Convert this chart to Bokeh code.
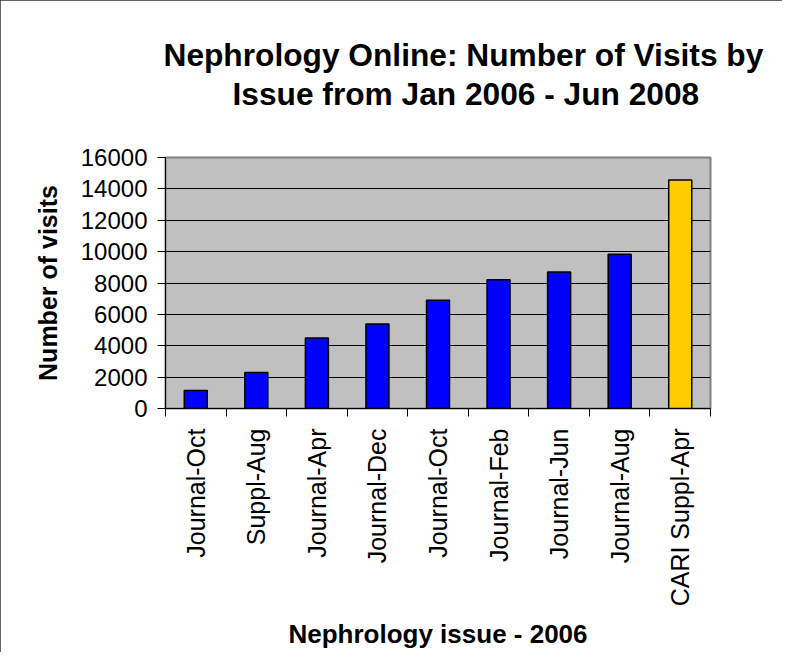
import math
from bokeh.plotting import figure
from bokeh.models import Range1d, LinearAxis, FixedTicker, Title, Grid
from bokeh.embed import file_html
from bokeh.resources import INLINE

# ---- data ----
issues = ["Journal-Oct", "Suppl-Aug", "Journal-Apr", "Journal-Dec", "Journal-Oct",
          "Journal-Feb", "Journal-Jun", "Journal-Aug", "CARI Suppl-Apr"]
visits = [1150, 2300, 4500, 5380, 6900, 8200, 8700, 9830, 14570]
bar_colors = ["#0000FF"] * 8 + ["#FFCC00"]
y_ticks = [0, 2000, 4000, 6000, 8000, 10000, 12000, 14000, 16000]
title_lines = ["Nephrology Online: Number of Visits by", "Issue from Jan 2006 - Jun 2008"]
x_title = "Nephrology issue - 2006"
y_title = "Number of visits"

FONT = "Liberation Sans"
n = len(issues)
centers = [i + 0.5 for i in range(n)]
bounds = list(range(n + 1))

p = figure(frame_width=545, frame_height=251,
           x_range=Range1d(0, n), y_range=Range1d(y_ticks[0], y_ticks[-1]),
           x_axis_type=None, y_axis_type=None,
           output_backend="svg", toolbar_location=None,
           min_border_left=165, min_border_right=72,
           min_border_top=157, min_border_bottom=243,
           background_fill_color="#C0C0C0", border_fill_color="white")
p.outline_line_color = "#808080"
p.outline_line_width = 2
p.styles = {"outline": "1px solid #333333", "outline-offset": "-1px"}

# y axis
yaxis = LinearAxis(ticker=FixedTicker(ticks=y_ticks),
                   axis_label=y_title,
                   axis_label_text_font=FONT, axis_label_text_font_size="25px",
                   axis_label_text_font_style="bold", axis_label_text_color="black",
                   axis_label_standoff=16,
                   major_label_text_font=FONT, major_label_text_font_size="24px",
                   major_label_text_color="black", major_label_standoff=10,
                   major_tick_in=0, major_tick_out=8, major_tick_line_color="black",
                   minor_tick_line_color=None,
                   axis_line_color="black", axis_line_width=1)
p.add_layout(yaxis, "left")

# x axis
xaxis = LinearAxis(ticker=FixedTicker(ticks=centers, minor_ticks=bounds),
                   major_label_overrides={c: lab for c, lab in zip(centers, issues)},
                   major_label_orientation=math.pi / 2,
                   major_label_text_font=FONT, major_label_text_font_size="25px",
                   major_label_text_color="black", major_label_standoff=12,
                   major_tick_in=0, major_tick_out=8, major_tick_line_color=None,
                   minor_tick_in=0, minor_tick_out=8, minor_tick_line_color="black",
                   axis_label=x_title,
                   axis_label_text_font=FONT, axis_label_text_font_size="26px",
                   axis_label_text_font_style="bold", axis_label_text_color="black",
                   axis_label_standoff=10,
                   axis_line_color="black", axis_line_width=1)
p.add_layout(xaxis, "below")

p.add_layout(Grid(dimension=1, ticker=yaxis.ticker, grid_line_color="black",
                  grid_line_width=1))

p.vbar(x=centers, top=visits, bottom=0, width=0.38,
       fill_color=bar_colors, line_color="black", line_width=1.5)

# titles (second line added first: closer to the plot)
p.add_layout(Title(text=title_lines[1], align="left", offset=67, standoff=90.6,
                   text_font=FONT, text_font_size="31.7px", text_font_style="bold",
                   text_color="black"), "above")
p.add_layout(Title(text=title_lines[0], align="left", offset=-2, standoff=-89.6,
                   text_font=FONT, text_font_size="31.7px", text_font_style="bold",
                   text_color="black"), "above")

open("out.html", "w").write(file_html(p, INLINE))
